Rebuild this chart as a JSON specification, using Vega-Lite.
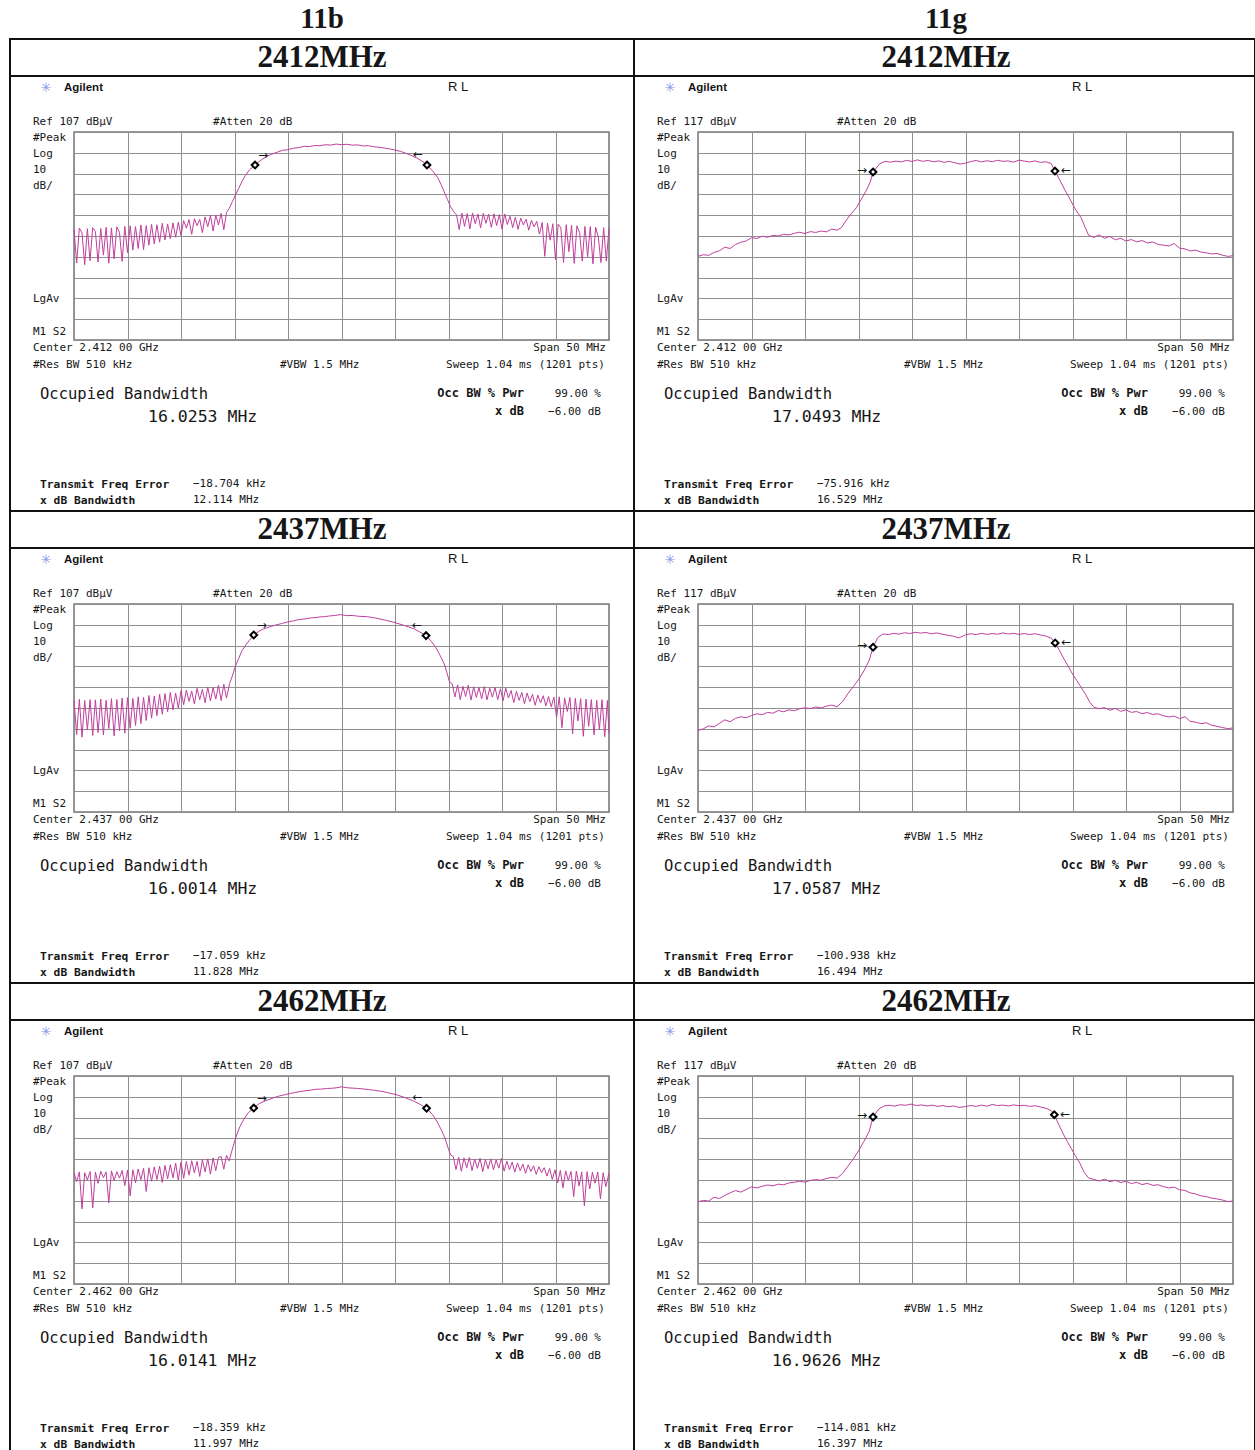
{
"$schema":"https://vega.github.io/schema/vega-lite/v6.json",
"background":"white",
"padding":{"left":8,"top":4,"right":0,"bottom":0},
"bounds":"flush",
"columns":2,
"spacing":{"row":264,"column":89},
"config":{
"view":{"stroke":"#777777","strokeWidth":1.5},
"axis":{"labels":false,"ticks":false,"domain":false,"grid":true,"gridColor":"#8f8f8f","gridWidth":1,"gridOpacity":1,"titleOpacity":0},
"text":{"font":"DejaVu Sans Mono","fontSize":11,"align":"left","baseline":"middle","color":"#161616"}
},
"datasets":{
"b2412":[{"f":-25,"v":60.2},{"f":-24.75,"v":44},{"f":-24.5,"v":60.8},{"f":-24.25,"v":58.5},{"f":-24,"v":43.2},{"f":-23.75,"v":60.5},{"f":-23.5,"v":45.1},{"f":-23.25,"v":61},{"f":-23,"v":59.2},{"f":-22.75,"v":44.5},{"f":-22.5,"v":60.6},{"f":-22.25,"v":47.8},{"f":-22,"v":61.2},{"f":-21.75,"v":43.9},{"f":-21.5,"v":60.9},{"f":-21.25,"v":46},{"f":-21,"v":61.4},{"f":-20.75,"v":58.8},{"f":-20.5,"v":44.8},{"f":-20.25,"v":61.6},{"f":-20,"v":49},{"f":-19.75,"v":61.9},{"f":-19.5,"v":50.2},{"f":-19.25,"v":61.5},{"f":-19,"v":51},{"f":-18.75,"v":62.3},{"f":-18.5,"v":50.5},{"f":-18.25,"v":62},{"f":-18,"v":52.6},{"f":-17.75,"v":62.6},{"f":-17.5,"v":53.2},{"f":-17.25,"v":62.4},{"f":-17,"v":54},{"f":-16.75,"v":63.1},{"f":-16.5,"v":55.1},{"f":-16.25,"v":62.8},{"f":-16,"v":55.7},{"f":-15.75,"v":63.3},{"f":-15.5,"v":56.4},{"f":-15.25,"v":63.6},{"f":-15,"v":57.2},{"f":-14.75,"v":64.4},{"f":-14.5,"v":60.8},{"f":-14.25,"v":64.9},{"f":-14,"v":57.8},{"f":-13.75,"v":65.3},{"f":-13.5,"v":62},{"f":-13.25,"v":65},{"f":-13,"v":58.6},{"f":-12.75,"v":66.2},{"f":-12.5,"v":61.5},{"f":-12.25,"v":66.8},{"f":-12,"v":59.4},{"f":-11.75,"v":67},{"f":-11.5,"v":62.3},{"f":-11.25,"v":67.9},{"f":-11,"v":60},{"f":-10.75,"v":68.3},{"f":-10.5,"v":70.2},{"f":-10.2,"v":73.5},{"f":-9.9,"v":76.8},{"f":-9.6,"v":80},{"f":-9.3,"v":83.2},{"f":-9,"v":86},{"f":-8.6,"v":88.8},{"f":-8.08,"v":91.1},{"f":-7.5,"v":93.6},{"f":-7,"v":95.2},{"f":-6.5,"v":96.4},{"f":-6,"v":97.3},{"f":-5.5,"v":98.2},{"f":-5,"v":98.5},{"f":-4.5,"v":99.2},{"f":-4,"v":99.5},{"f":-3.5,"v":100.1},{"f":-3,"v":100},{"f":-2.5,"v":100.5},{"f":-2,"v":100.4},{"f":-1.5,"v":100.9},{"f":-1,"v":100.7},{"f":-0.5,"v":101.2},{"f":0,"v":100.9},{"f":0.5,"v":101.1},{"f":1,"v":100.7},{"f":1.5,"v":100.8},{"f":2,"v":100.3},{"f":2.5,"v":100.4},{"f":3,"v":99.9},{"f":3.5,"v":99.7},{"f":4,"v":99.3},{"f":4.5,"v":98.9},{"f":5,"v":98.3},{"f":5.5,"v":97.7},{"f":6,"v":96.8},{"f":6.5,"v":95.8},{"f":7,"v":94.6},{"f":7.5,"v":93.1},{"f":7.99,"v":91.1},{"f":8.5,"v":88.4},{"f":9,"v":85},{"f":9.3,"v":81.8},{"f":9.6,"v":78.2},{"f":9.9,"v":74.6},{"f":10.2,"v":71},{"f":10.5,"v":68.6},{"f":10.75,"v":67.2},{"f":11,"v":60.1},{"f":11.25,"v":68},{"f":11.5,"v":61.6},{"f":11.75,"v":67.8},{"f":12,"v":60.4},{"f":12.25,"v":68.1},{"f":12.5,"v":62.9},{"f":12.75,"v":67.6},{"f":13,"v":60.9},{"f":13.25,"v":67.9},{"f":13.5,"v":63.1},{"f":13.75,"v":67.5},{"f":14,"v":61.2},{"f":14.25,"v":67.7},{"f":14.5,"v":62},{"f":14.75,"v":67.3},{"f":15,"v":60.3},{"f":15.25,"v":67.6},{"f":15.5,"v":62.5},{"f":15.75,"v":66.5},{"f":16,"v":61},{"f":16.25,"v":66},{"f":16.5,"v":60.2},{"f":16.75,"v":65.6},{"f":17,"v":62.3},{"f":17.25,"v":65.1},{"f":17.5,"v":59.8},{"f":17.75,"v":64.6},{"f":18,"v":61.4},{"f":18.25,"v":64},{"f":18.5,"v":57.9},{"f":18.75,"v":63.5},{"f":19,"v":47.2},{"f":19.25,"v":63.2},{"f":19.5,"v":55},{"f":19.75,"v":62.9},{"f":20,"v":45.6},{"f":20.25,"v":62.7},{"f":20.5,"v":61},{"f":20.75,"v":44.3},{"f":21,"v":62.4},{"f":21.25,"v":49.5},{"f":21.5,"v":62.1},{"f":21.75,"v":43.8},{"f":22,"v":61.9},{"f":22.25,"v":58.7},{"f":22.5,"v":44.9},{"f":22.75,"v":61.6},{"f":23,"v":47},{"f":23.25,"v":61.5},{"f":23.5,"v":43.6},{"f":23.75,"v":61.2},{"f":24,"v":56.4},{"f":24.25,"v":44.2},{"f":24.5,"v":61},{"f":24.75,"v":45},{"f":25,"v":60.6}],
"b2437":[{"f":-25,"v":60.8},{"f":-24.75,"v":44.2},{"f":-24.5,"v":61.2},{"f":-24.25,"v":43},{"f":-24,"v":60.6},{"f":-23.75,"v":46.5},{"f":-23.5,"v":61},{"f":-23.25,"v":43.8},{"f":-23,"v":60.9},{"f":-22.75,"v":45.2},{"f":-22.5,"v":61.3},{"f":-22.25,"v":44},{"f":-22,"v":60.7},{"f":-21.75,"v":47.1},{"f":-21.5,"v":61.5},{"f":-21.25,"v":43.6},{"f":-21,"v":61.1},{"f":-20.75,"v":46},{"f":-20.5,"v":61.8},{"f":-20.25,"v":44.9},{"f":-20,"v":62},{"f":-19.75,"v":47.3},{"f":-19.5,"v":61.6},{"f":-19.25,"v":48.6},{"f":-19,"v":62.4},{"f":-18.75,"v":49.5},{"f":-18.5,"v":62.1},{"f":-18.25,"v":51},{"f":-18,"v":63},{"f":-17.75,"v":52.1},{"f":-17.5,"v":62.7},{"f":-17.25,"v":53.3},{"f":-17,"v":63.6},{"f":-16.75,"v":54},{"f":-16.5,"v":63.9},{"f":-16.25,"v":55.2},{"f":-16,"v":64.5},{"f":-15.75,"v":56.1},{"f":-15.5,"v":64.2},{"f":-15.25,"v":57},{"f":-15,"v":65.3},{"f":-14.75,"v":58.6},{"f":-14.5,"v":65.6},{"f":-14.25,"v":60.2},{"f":-14,"v":65.1},{"f":-13.75,"v":58.9},{"f":-13.5,"v":66.4},{"f":-13.25,"v":61},{"f":-13,"v":66},{"f":-12.75,"v":59.5},{"f":-12.5,"v":67.1},{"f":-12.25,"v":60.4},{"f":-12,"v":66.8},{"f":-11.75,"v":61.3},{"f":-11.5,"v":67.9},{"f":-11.25,"v":60.6},{"f":-11,"v":68.5},{"f":-10.75,"v":61.8},{"f":-10.45,"v":68.8},{"f":-10.2,"v":72.4},{"f":-9.95,"v":76.6},{"f":-9.6,"v":80.9},{"f":-9.3,"v":84.6},{"f":-8.9,"v":87.6},{"f":-8.6,"v":89.6},{"f":-8.2,"v":92.1},{"f":-7.7,"v":93.9},{"f":-7.3,"v":95},{"f":-6.5,"v":96.4},{"f":-5.6,"v":97.6},{"f":-5,"v":98.4},{"f":-4.5,"v":98.9},{"f":-4,"v":99.5},{"f":-3.5,"v":99.8},{"f":-2.9,"v":100.3},{"f":-2.4,"v":100.5},{"f":-2,"v":100.8},{"f":-1.6,"v":100.9},{"f":-1.2,"v":101.2},{"f":-0.6,"v":101.5},{"f":-0.1,"v":101.9},{"f":0.5,"v":101.4},{"f":1,"v":101.5},{"f":1.6,"v":101.1},{"f":2.4,"v":100.9},{"f":3,"v":100.4},{"f":3.4,"v":100},{"f":4.2,"v":99.1},{"f":4.9,"v":98.2},{"f":5.8,"v":96.8},{"f":6.8,"v":95},{"f":7.3,"v":93.6},{"f":7.9,"v":91.8},{"f":8.4,"v":89},{"f":8.8,"v":86.2},{"f":9.2,"v":82.4},{"f":9.6,"v":78.2},{"f":9.85,"v":74},{"f":10.1,"v":69.4},{"f":10.35,"v":68.6},{"f":10.6,"v":62.3},{"f":10.85,"v":68.1},{"f":11.1,"v":61},{"f":11.35,"v":67.4},{"f":11.6,"v":62.5},{"f":11.85,"v":67.9},{"f":12.1,"v":60.8},{"f":12.35,"v":67.2},{"f":12.6,"v":62.1},{"f":12.85,"v":66.8},{"f":13.1,"v":61.4},{"f":13.35,"v":67.3},{"f":13.6,"v":60.9},{"f":13.85,"v":66.5},{"f":14.1,"v":62.2},{"f":14.35,"v":66.9},{"f":14.6,"v":61.1},{"f":14.85,"v":66.2},{"f":15.1,"v":60.5},{"f":15.35,"v":66.6},{"f":15.6,"v":61.8},{"f":15.85,"v":65.4},{"f":16.1,"v":59.6},{"f":16.35,"v":65},{"f":16.6,"v":60.7},{"f":16.85,"v":64.5},{"f":17.1,"v":59},{"f":17.35,"v":64.2},{"f":17.6,"v":60.1},{"f":17.85,"v":63.6},{"f":18.1,"v":58.3},{"f":18.35,"v":63.2},{"f":18.6,"v":59.4},{"f":18.85,"v":62.9},{"f":19.1,"v":58},{"f":19.35,"v":62.5},{"f":19.6,"v":57.6},{"f":19.85,"v":62.2},{"f":20.1,"v":52.4},{"f":20.35,"v":62.4},{"f":20.6,"v":47.5},{"f":20.85,"v":61.9},{"f":21.1,"v":55.3},{"f":21.35,"v":62.1},{"f":21.6,"v":44.6},{"f":21.85,"v":61.7},{"f":22.1,"v":50.8},{"f":22.35,"v":61.5},{"f":22.6,"v":43.4},{"f":22.85,"v":61.3},{"f":23.1,"v":48.2},{"f":23.35,"v":61},{"f":23.6,"v":44.1},{"f":23.85,"v":60.8},{"f":24.1,"v":46.7},{"f":24.35,"v":61},{"f":24.6,"v":43.2},{"f":24.85,"v":60.6},{"f":25,"v":45}],
"b2462":[{"f":-25,"v":60.4},{"f":-24.75,"v":56.2},{"f":-24.5,"v":60.9},{"f":-24.25,"v":43.1},{"f":-24,"v":60.5},{"f":-23.75,"v":57},{"f":-23.5,"v":61.1},{"f":-23.25,"v":43.6},{"f":-23,"v":60.8},{"f":-22.75,"v":55.4},{"f":-22.5,"v":61.2},{"f":-22.25,"v":58.1},{"f":-22,"v":60.9},{"f":-21.75,"v":46},{"f":-21.5,"v":61.4},{"f":-21.25,"v":56.8},{"f":-21,"v":61},{"f":-20.75,"v":57.9},{"f":-20.5,"v":61.6},{"f":-20.25,"v":54.3},{"f":-20,"v":61.8},{"f":-19.75,"v":49.4},{"f":-19.5,"v":61.9},{"f":-19.25,"v":55.6},{"f":-19,"v":62.3},{"f":-18.75,"v":57.1},{"f":-18.5,"v":62.6},{"f":-18.25,"v":51.5},{"f":-18,"v":62.9},{"f":-17.75,"v":56.4},{"f":-17.5,"v":63.3},{"f":-17.25,"v":57.2},{"f":-17,"v":63.6},{"f":-16.75,"v":55.8},{"f":-16.5,"v":64},{"f":-16.25,"v":57.5},{"f":-16,"v":64.4},{"f":-15.75,"v":58},{"f":-15.5,"v":65.1},{"f":-15.25,"v":56.9},{"f":-15,"v":65.6},{"f":-14.75,"v":57.8},{"f":-14.5,"v":65.9},{"f":-14.25,"v":59.3},{"f":-14,"v":66.3},{"f":-13.75,"v":60.4},{"f":-13.5,"v":66},{"f":-13.25,"v":58.7},{"f":-13,"v":66.8},{"f":-12.75,"v":60.9},{"f":-12.5,"v":67.2},{"f":-12.25,"v":59.8},{"f":-12,"v":67.6},{"f":-11.75,"v":61.5},{"f":-11.5,"v":67.8},{"f":-11.25,"v":68.3},{"f":-11,"v":62.2},{"f":-10.75,"v":68.9},{"f":-10.5,"v":66.2},{"f":-10.3,"v":70},{"f":-10.05,"v":74.5},{"f":-9.8,"v":78.6},{"f":-9.5,"v":82.6},{"f":-9.1,"v":86.4},{"f":-8.7,"v":89.4},{"f":-8.2,"v":91.6},{"f":-7.7,"v":93.7},{"f":-7.1,"v":95.1},{"f":-6.3,"v":96.6},{"f":-5.8,"v":97.4},{"f":-5.3,"v":98},{"f":-4.8,"v":98.6},{"f":-4.4,"v":99},{"f":-3.9,"v":99.5},{"f":-3.4,"v":99.9},{"f":-2.9,"v":100.2},{"f":-2.4,"v":100.6},{"f":-1.9,"v":100.7},{"f":-1.4,"v":101},{"f":-0.9,"v":101.1},{"f":-0.5,"v":101.3},{"f":0,"v":101.8},{"f":0.6,"v":101.3},{"f":1,"v":101.2},{"f":1.5,"v":101},{"f":2,"v":100.8},{"f":2.5,"v":100.5},{"f":3,"v":100.2},{"f":3.5,"v":99.8},{"f":4,"v":99.4},{"f":4.4,"v":98.9},{"f":5.2,"v":97.9},{"f":6,"v":96.5},{"f":6.8,"v":94.8},{"f":7.4,"v":93.2},{"f":7.95,"v":91.5},{"f":8.5,"v":88.5},{"f":8.9,"v":85.3},{"f":9.3,"v":81.4},{"f":9.7,"v":76.8},{"f":10,"v":71.8},{"f":10.2,"v":69},{"f":10.45,"v":68.3},{"f":10.7,"v":62},{"f":10.95,"v":68},{"f":11.2,"v":61.2},{"f":11.45,"v":67.6},{"f":11.7,"v":62.8},{"f":11.95,"v":67.9},{"f":12.2,"v":61.5},{"f":12.45,"v":67.1},{"f":12.7,"v":62.6},{"f":12.95,"v":67.5},{"f":13.2,"v":61},{"f":13.45,"v":66.8},{"f":13.7,"v":62.4},{"f":13.95,"v":67.2},{"f":14.2,"v":61.9},{"f":14.45,"v":66.6},{"f":14.7,"v":62.7},{"f":14.95,"v":67.4},{"f":15.2,"v":61.3},{"f":15.45,"v":66.1},{"f":15.7,"v":62},{"f":15.95,"v":65.6},{"f":16.2,"v":60.8},{"f":16.45,"v":65.2},{"f":16.7,"v":61.5},{"f":16.95,"v":64.7},{"f":17.2,"v":60.2},{"f":17.45,"v":64.3},{"f":17.7,"v":61.1},{"f":17.95,"v":63.8},{"f":18.2,"v":59.7},{"f":18.45,"v":63.4},{"f":18.7,"v":60.5},{"f":18.95,"v":62.9},{"f":19.2,"v":58.9},{"f":19.45,"v":62.5},{"f":19.7,"v":57.3},{"f":19.95,"v":61.9},{"f":20.2,"v":55.6},{"f":20.45,"v":61.6},{"f":20.7,"v":53.2},{"f":20.95,"v":61.4},{"f":21.2,"v":56.8},{"f":21.45,"v":61.1},{"f":21.7,"v":49},{"f":21.95,"v":61.3},{"f":22.2,"v":54.1},{"f":22.45,"v":60.9},{"f":22.7,"v":44.6},{"f":22.95,"v":61},{"f":23.2,"v":52.7},{"f":23.45,"v":60.7},{"f":23.7,"v":55.5},{"f":23.95,"v":60.8},{"f":24.2,"v":47.9},{"f":24.45,"v":60.5},{"f":24.7,"v":53.8},{"f":25,"v":60.2}],
"g2412":[{"f":-25,"v":57.2},{"f":-24.5,"v":58},{"f":-24,"v":57.7},{"f":-23.5,"v":59.1},{"f":-23,"v":59.9},{"f":-22.5,"v":61.6},{"f":-22,"v":61},{"f":-21.5,"v":62.9},{"f":-21,"v":64},{"f":-20.5,"v":64.6},{"f":-20,"v":66.2},{"f":-19.5,"v":65.8},{"f":-19,"v":66.9},{"f":-18.5,"v":66.4},{"f":-18,"v":67.3},{"f":-17.5,"v":67},{"f":-17,"v":67.8},{"f":-16.5,"v":67.5},{"f":-16,"v":68.3},{"f":-15.5,"v":68.8},{"f":-15,"v":68.2},{"f":-14.5,"v":69.1},{"f":-14,"v":68.7},{"f":-13.5,"v":69.4},{"f":-13,"v":69},{"f":-12.5,"v":70.3},{"f":-12,"v":69.8},{"f":-11.6,"v":71},{"f":-11.2,"v":74.2},{"f":-10.7,"v":77.6},{"f":-10.2,"v":80.6},{"f":-9.7,"v":85},{"f":-9.3,"v":88.6},{"f":-8.9,"v":93},{"f":-8.64,"v":97.8},{"f":-8,"v":101.8},{"f":-7.5,"v":102.9},{"f":-7,"v":102.5},{"f":-6.5,"v":103},{"f":-6,"v":102.6},{"f":-5.5,"v":103.4},{"f":-5,"v":102.8},{"f":-4.5,"v":103.6},{"f":-4,"v":102.9},{"f":-3.5,"v":103.3},{"f":-3,"v":102.7},{"f":-2.5,"v":103.1},{"f":-2,"v":102.4},{"f":-1.5,"v":102.9},{"f":-1,"v":102.2},{"f":-0.5,"v":101.6},{"f":0,"v":102},{"f":0.5,"v":102.8},{"f":1,"v":103.3},{"f":1.5,"v":102.6},{"f":2,"v":103.2},{"f":2.5,"v":102.7},{"f":3,"v":103.4},{"f":3.5,"v":102.9},{"f":4,"v":103.1},{"f":4.5,"v":102.5},{"f":5,"v":103.5},{"f":5.5,"v":103},{"f":6,"v":102.6},{"f":6.5,"v":103.1},{"f":7,"v":102.4},{"f":7.5,"v":102.7},{"f":8,"v":101.9},{"f":8.36,"v":98.2},{"f":8.8,"v":94},{"f":9.3,"v":89},{"f":9.7,"v":85.4},{"f":10.2,"v":80.4},{"f":10.8,"v":75.8},{"f":11.2,"v":71},{"f":11.5,"v":67.4},{"f":12,"v":66.3},{"f":12.5,"v":67.5},{"f":13,"v":65.9},{"f":13.5,"v":66.8},{"f":14,"v":65.2},{"f":14.5,"v":65.9},{"f":15,"v":64.6},{"f":15.5,"v":65.3},{"f":16,"v":64.2},{"f":16.5,"v":64.8},{"f":17,"v":63.7},{"f":17.5,"v":64.1},{"f":18,"v":63},{"f":18.5,"v":62.6},{"f":19,"v":62.2},{"f":19.5,"v":63.4},{"f":20,"v":61.2},{"f":20.5,"v":60.8},{"f":21,"v":59.8},{"f":21.5,"v":60.2},{"f":22,"v":59.3},{"f":22.5,"v":58.9},{"f":23,"v":58.4},{"f":23.5,"v":58.6},{"f":24,"v":57.8},{"f":24.5,"v":57.2},{"f":25,"v":57.5}],
"g2437":[{"f":-25,"v":56.2},{"f":-24.5,"v":57},{"f":-24,"v":58.4},{"f":-23.5,"v":57.9},{"f":-23,"v":59.6},{"f":-22.5,"v":61.3},{"f":-22,"v":60.4},{"f":-21.5,"v":62},{"f":-21,"v":62.8},{"f":-20.5,"v":62.3},{"f":-20,"v":63.4},{"f":-19.5,"v":64.2},{"f":-19,"v":63.8},{"f":-18.5,"v":64.9},{"f":-18,"v":64.5},{"f":-17.5,"v":65.8},{"f":-17,"v":65.2},{"f":-16.5,"v":66.1},{"f":-16,"v":65.7},{"f":-15.5,"v":66.6},{"f":-15,"v":67.1},{"f":-14.5,"v":66.7},{"f":-14,"v":67.5},{"f":-13.5,"v":67},{"f":-13,"v":67.9},{"f":-12.5,"v":68.4},{"f":-12,"v":67.6},{"f":-11.5,"v":70},{"f":-11,"v":73.8},{"f":-10.5,"v":77.2},{"f":-10,"v":80.6},{"f":-9.5,"v":84.8},{"f":-9,"v":89.9},{"f":-8.64,"v":96.2},{"f":-8.2,"v":100.9},{"f":-7.7,"v":102.6},{"f":-7.2,"v":102.3},{"f":-6.7,"v":102.9},{"f":-6.2,"v":102.5},{"f":-5.7,"v":103.2},{"f":-5.2,"v":102.8},{"f":-4.7,"v":103.4},{"f":-4.2,"v":103},{"f":-3.7,"v":103.3},{"f":-3.2,"v":102.7},{"f":-2.7,"v":103.1},{"f":-2.2,"v":102.5},{"f":-1.7,"v":102},{"f":-1.2,"v":101.6},{"f":-0.6,"v":100.7},{"f":0,"v":102.2},{"f":0.5,"v":102.7},{"f":1,"v":102.3},{"f":1.5,"v":102.9},{"f":2,"v":102.4},{"f":2.5,"v":102.8},{"f":3,"v":102.5},{"f":3.5,"v":103.1},{"f":4,"v":102.6},{"f":4.5,"v":102.9},{"f":5,"v":102.4},{"f":5.5,"v":102.8},{"f":6,"v":102.3},{"f":6.5,"v":102.7},{"f":7,"v":102.1},{"f":7.5,"v":101.6},{"f":8,"v":100.6},{"f":8.38,"v":98.3},{"f":8.8,"v":94.5},{"f":9.2,"v":90.6},{"f":9.6,"v":87.1},{"f":10,"v":83.3},{"f":10.4,"v":80.2},{"f":10.8,"v":77},{"f":11.2,"v":73.8},{"f":11.6,"v":69.9},{"f":12,"v":67.4},{"f":12.5,"v":66.6},{"f":13,"v":67.2},{"f":13.5,"v":65.9},{"f":14,"v":66.8},{"f":14.5,"v":65.4},{"f":15,"v":66.1},{"f":15.5,"v":64.9},{"f":16,"v":65.3},{"f":16.5,"v":64.3},{"f":17,"v":64.8},{"f":17.5,"v":63.9},{"f":18,"v":64.2},{"f":18.5,"v":63.3},{"f":19,"v":62.7},{"f":19.5,"v":63.1},{"f":20,"v":61.9},{"f":20.5,"v":62.8},{"f":21,"v":60.6},{"f":21.5,"v":60.2},{"f":22,"v":59.5},{"f":22.5,"v":59.9},{"f":23,"v":58.7},{"f":23.5,"v":58.2},{"f":24,"v":57.6},{"f":24.5,"v":57.1},{"f":25,"v":57.4}],
"g2462":[{"f":-25,"v":56.5},{"f":-24.5,"v":57.2},{"f":-24,"v":56.9},{"f":-23.5,"v":58.7},{"f":-23,"v":58.1},{"f":-22.5,"v":59.6},{"f":-22,"v":60.8},{"f":-21.5,"v":61.9},{"f":-21,"v":61.2},{"f":-20.5,"v":62.4},{"f":-20,"v":63.7},{"f":-19.5,"v":63.2},{"f":-19,"v":64},{"f":-18.5,"v":64.6},{"f":-18,"v":64.2},{"f":-17.5,"v":65},{"f":-17,"v":64.7},{"f":-16.5,"v":65.6},{"f":-16,"v":65.9},{"f":-15.5,"v":66.4},{"f":-15,"v":66},{"f":-14.5,"v":66.8},{"f":-14,"v":67.2},{"f":-13.5,"v":66.9},{"f":-13,"v":67.7},{"f":-12.5,"v":68.3},{"f":-12,"v":67.9},{"f":-11.5,"v":70.1},{"f":-11,"v":73.6},{"f":-10.5,"v":77},{"f":-10,"v":81},{"f":-9.5,"v":85.5},{"f":-9,"v":90.4},{"f":-8.64,"v":97.3},{"f":-8.1,"v":101.2},{"f":-7.6,"v":102.6},{"f":-7.1,"v":102.9},{"f":-6.6,"v":102.5},{"f":-6.1,"v":103.2},{"f":-5.6,"v":102.9},{"f":-5.1,"v":103.5},{"f":-4.6,"v":102.8},{"f":-4.1,"v":103.1},{"f":-3.6,"v":102.6},{"f":-3.1,"v":103},{"f":-2.6,"v":102.4},{"f":-2.1,"v":102.8},{"f":-1.6,"v":102.2},{"f":-1.1,"v":102.6},{"f":-0.6,"v":101.9},{"f":0,"v":102.3},{"f":0.5,"v":102.8},{"f":1,"v":102.4},{"f":1.5,"v":103},{"f":2,"v":102.5},{"f":2.5,"v":103.3},{"f":3,"v":102.8},{"f":3.5,"v":103},{"f":4,"v":102.6},{"f":4.5,"v":103.1},{"f":5,"v":102.7},{"f":5.5,"v":102.9},{"f":6,"v":102.4},{"f":6.5,"v":102.7},{"f":7,"v":102.1},{"f":7.5,"v":101.5},{"f":8,"v":100.4},{"f":8.3,"v":98.4},{"f":8.7,"v":93.8},{"f":9.1,"v":89.5},{"f":9.5,"v":85.6},{"f":9.9,"v":82},{"f":10.3,"v":78.4},{"f":10.7,"v":75},{"f":11.1,"v":70.6},{"f":11.5,"v":68},{"f":12,"v":67.3},{"f":12.5,"v":66.5},{"f":13,"v":67.4},{"f":13.5,"v":66.2},{"f":14,"v":66.9},{"f":14.5,"v":65.8},{"f":15,"v":66.4},{"f":15.5,"v":65.3},{"f":16,"v":65.9},{"f":16.5,"v":64.8},{"f":17,"v":65.4},{"f":17.5,"v":64.4},{"f":18,"v":64.7},{"f":18.5,"v":63.8},{"f":19,"v":63.2},{"f":19.5,"v":63.6},{"f":20,"v":62.3},{"f":20.5,"v":62},{"f":21,"v":60.8},{"f":21.5,"v":60.3},{"f":22,"v":59.4},{"f":22.5,"v":59},{"f":23,"v":58.3},{"f":23.5,"v":57.9},{"f":24,"v":57.4},{"f":24.5,"v":56.6},{"f":25,"v":56.9}]
},
"concat":[
{"width":535,"height":208,
"data":{"values":[{"std":"11b","mhz":"2412MHz","ref":"Ref 107 dBµV","center":"Center 2.412 00 GHz","obw":"16.0253 MHz","ferr":"−18.704 kHz","xbw":"12.114 MHz","lf":-8.08,"lv":91.1,"rf":7.99,"rv":91.1}]},
"layer":[
{"data":{"name":"b2412"},"mark":{"type":"line","color":"#bf3f9c","strokeWidth":1},"encoding":{"x":{"field":"f","type":"quantitative","title":null,"scale":{"domain":[-25,25],"nice":false,"zero":false},"axis":{"values":[-25,-20,-15,-10,-5,0,5,10,15,20,25],"tickCount":11}},"y":{"field":"v","type":"quantitative","title":null,"scale":{"domain":[7,107],"nice":false,"zero":false},"axis":{"values":[7,17,27,37,47,57,67,77,87,97,107],"tickCount":11}}}},
{"mark":{"type":"point","shape":"diamond","size":45,"filled":true,"fill":"white","stroke":"black","strokeWidth":2,"opacity":1},"encoding":{"x":{"field":"lf","type":"quantitative","title":null},"y":{"field":"lv","type":"quantitative","title":null}}},
{"mark":{"type":"point","shape":"diamond","size":45,"filled":true,"fill":"white","stroke":"black","strokeWidth":2,"opacity":1},"encoding":{"x":{"field":"rf","type":"quantitative","title":null},"y":{"field":"rv","type":"quantitative","title":null}}},
{"mark":{"type":"text","text":"→","font":"DejaVu Sans","fontSize":12,"align":"center","dx":8,"dy":-10},"encoding":{"x":{"field":"lf","type":"quantitative","title":null},"y":{"field":"lv","type":"quantitative","title":null}}},
{"mark":{"type":"text","text":"←","font":"DejaVu Sans","fontSize":12,"align":"center","dx":-9,"dy":-11},"encoding":{"x":{"field":"rf","type":"quantitative","title":null},"y":{"field":"rv","type":"quantitative","title":null}}},
{"mark":{"type":"text","text":"✳","font":"DejaVu Sans","fontSize":13,"align":"center","color":"#7f95e6"},"encoding":{"x":{"datum":-27.617},"y":{"datum":128.15}}},
{"mark":{"type":"text","text":"Agilent","font":"Liberation Sans","fontWeight":"bold","fontSize":11.5},"encoding":{"x":{"datum":-25.935},"y":{"datum":128.15}}},
{"mark":{"type":"text","text":"R L","font":"Liberation Sans","fontSize":13},"encoding":{"x":{"datum":9.953},"y":{"datum":128.63}}},
{"mark":"text","encoding":{"text":{"field":"ref","type":"nominal"},"x":{"datum":-28.832},"y":{"datum":111.81}}},
{"mark":{"type":"text","text":"#Atten 20 dB"},"encoding":{"x":{"datum":-12.009},"y":{"datum":111.81}}},
{"mark":{"type":"text","text":["#Peak","Log","10","dB/"],"baseline":"top","lineHeight":16},"encoding":{"x":{"datum":-28.832},"y":{"datum":106.86}}},
{"mark":{"type":"text","text":"LgAv"},"encoding":{"x":{"datum":-28.832},"y":{"datum":26.71}}},
{"mark":{"type":"text","text":"M1 S2"},"encoding":{"x":{"datum":-28.832},"y":{"datum":10.85}}},
{"mark":"text","encoding":{"text":{"field":"center","type":"nominal"},"x":{"datum":-28.832},"y":{"datum":3.15}}},
{"mark":{"type":"text","text":"Span 50 MHz","align":"right"},"encoding":{"x":{"datum":24.72},"y":{"datum":3.15}}},
{"mark":{"type":"text","text":"#Res BW 510 kHz"},"encoding":{"x":{"datum":-28.832},"y":{"datum":-5.02}}},
{"mark":{"type":"text","text":"#VBW 1.5 MHz"},"encoding":{"x":{"datum":-5.748},"y":{"datum":-5.02}}},
{"mark":{"type":"text","text":"Sweep 1.04 ms (1201 pts)","align":"right"},"encoding":{"x":{"datum":24.626},"y":{"datum":-5.02}}},
{"mark":{"type":"text","text":"Occupied Bandwidth","fontSize":15.5},"encoding":{"x":{"datum":-28.178},"y":{"datum":-18.96}}},
{"mark":{"type":"text","fontSize":16.5},"encoding":{"text":{"field":"obw","type":"nominal"},"x":{"datum":-18.084},"y":{"datum":-30.02}}},
{"mark":{"type":"text","text":["Occ BW % Pwr","x dB"],"fontWeight":"bold","fontSize":12,"align":"right","baseline":"top","lineHeight":18},"encoding":{"x":{"datum":17.056},"y":{"datum":-15.98}}},
{"mark":{"type":"text","text":["99.00 %","−6.00 dB"],"align":"right","baseline":"top","lineHeight":18},"encoding":{"x":{"datum":24.252},"y":{"datum":-16.22}}},
{"mark":{"type":"text","text":["Transmit Freq Error","x dB Bandwidth"],"fontWeight":"bold","fontSize":11.3,"baseline":"top","lineHeight":16},"encoding":{"x":{"datum":-28.178},"y":{"datum":-59.85}}},
{"mark":"text","encoding":{"text":{"field":"ferr","type":"nominal"},"x":{"datum":-13.879},"y":{"datum":-62.23}}},
{"mark":"text","encoding":{"text":{"field":"xbw","type":"nominal"},"x":{"datum":-13.879},"y":{"datum":-69.92}}},
{"mark":{"type":"text","font":"Liberation Serif","fontWeight":"bold","fontSize":31,"align":"center"},"encoding":{"text":{"field":"mhz","type":"nominal"},"x":{"datum":-1.822},"y":{"datum":142.58}}},
{"mark":{"type":"text","font":"Liberation Serif","fontWeight":"bold","fontSize":29,"align":"center"},"encoding":{"text":{"field":"std","type":"nominal"},"x":{"datum":-1.822},"y":{"datum":161.33}}},
{"mark":{"type":"rect","fillOpacity":0,"stroke":"#111111","strokeWidth":2},"encoding":{"x":{"datum":-30.981},"x2":{"datum":27.336},"y":{"datum":151.71},"y2":{"datum":133.92}}},
{"mark":{"type":"rule","color":"#111111","strokeWidth":2},"encoding":{"x":{"datum":-30.981},"y":{"datum":133.92},"y2":{"datum":-75.21}}},
{"mark":{"type":"rule","color":"#111111","strokeWidth":2},"encoding":{"x":{"datum":27.336},"y":{"datum":133.92},"y2":{"datum":-75.21}}}
]},
{"width":535,"height":208,
"data":{"values":[{"std":"11g","mhz":"2412MHz","ref":"Ref 117 dBµV","center":"Center 2.412 00 GHz","obw":"17.0493 MHz","ferr":"−75.916 kHz","xbw":"16.529 MHz","lf":-8.64,"lv":97.8,"rf":8.36,"rv":98.2}]},
"layer":[
{"data":{"name":"g2412"},"mark":{"type":"line","color":"#bf3f9c","strokeWidth":1},"encoding":{"x":{"field":"f","type":"quantitative","title":null,"scale":{"domain":[-25,25],"nice":false,"zero":false},"axis":{"values":[-25,-20,-15,-10,-5,0,5,10,15,20,25],"tickCount":11}},"y":{"field":"v","type":"quantitative","title":null,"scale":{"domain":[17,117],"nice":false,"zero":false},"axis":{"values":[17,27,37,47,57,67,77,87,97,107,117],"tickCount":11}}}},
{"mark":{"type":"point","shape":"diamond","size":45,"filled":true,"fill":"white","stroke":"black","strokeWidth":2,"opacity":1},"encoding":{"x":{"field":"lf","type":"quantitative","title":null},"y":{"field":"lv","type":"quantitative","title":null}}},
{"mark":{"type":"point","shape":"diamond","size":45,"filled":true,"fill":"white","stroke":"black","strokeWidth":2,"opacity":1},"encoding":{"x":{"field":"rf","type":"quantitative","title":null},"y":{"field":"rv","type":"quantitative","title":null}}},
{"mark":{"type":"text","text":"→","font":"DejaVu Sans","fontSize":12,"align":"center","dx":-11,"dy":-2},"encoding":{"x":{"field":"lf","type":"quantitative","title":null},"y":{"field":"lv","type":"quantitative","title":null}}},
{"mark":{"type":"text","text":"←","font":"DejaVu Sans","fontSize":12,"align":"center","dx":11,"dy":-1},"encoding":{"x":{"field":"rf","type":"quantitative","title":null},"y":{"field":"rv","type":"quantitative","title":null}}},
{"mark":{"type":"text","text":"✳","font":"DejaVu Sans","fontSize":13,"align":"center","color":"#7f95e6"},"encoding":{"x":{"datum":-27.617},"y":{"datum":138.15}}},
{"mark":{"type":"text","text":"Agilent","font":"Liberation Sans","fontWeight":"bold","fontSize":11.5},"encoding":{"x":{"datum":-25.935},"y":{"datum":138.15}}},
{"mark":{"type":"text","text":"R L","font":"Liberation Sans","fontSize":13},"encoding":{"x":{"datum":9.953},"y":{"datum":138.63}}},
{"mark":"text","encoding":{"text":{"field":"ref","type":"nominal"},"x":{"datum":-28.832},"y":{"datum":121.81}}},
{"mark":{"type":"text","text":"#Atten 20 dB"},"encoding":{"x":{"datum":-12.009},"y":{"datum":121.81}}},
{"mark":{"type":"text","text":["#Peak","Log","10","dB/"],"baseline":"top","lineHeight":16},"encoding":{"x":{"datum":-28.832},"y":{"datum":116.86}}},
{"mark":{"type":"text","text":"LgAv"},"encoding":{"x":{"datum":-28.832},"y":{"datum":36.71}}},
{"mark":{"type":"text","text":"M1 S2"},"encoding":{"x":{"datum":-28.832},"y":{"datum":20.85}}},
{"mark":"text","encoding":{"text":{"field":"center","type":"nominal"},"x":{"datum":-28.832},"y":{"datum":13.15}}},
{"mark":{"type":"text","text":"Span 50 MHz","align":"right"},"encoding":{"x":{"datum":24.72},"y":{"datum":13.15}}},
{"mark":{"type":"text","text":"#Res BW 510 kHz"},"encoding":{"x":{"datum":-28.832},"y":{"datum":4.98}}},
{"mark":{"type":"text","text":"#VBW 1.5 MHz"},"encoding":{"x":{"datum":-5.748},"y":{"datum":4.98}}},
{"mark":{"type":"text","text":"Sweep 1.04 ms (1201 pts)","align":"right"},"encoding":{"x":{"datum":24.626},"y":{"datum":4.98}}},
{"mark":{"type":"text","text":"Occupied Bandwidth","fontSize":15.5},"encoding":{"x":{"datum":-28.178},"y":{"datum":-8.96}}},
{"mark":{"type":"text","fontSize":16.5},"encoding":{"text":{"field":"obw","type":"nominal"},"x":{"datum":-18.084},"y":{"datum":-20.02}}},
{"mark":{"type":"text","text":["Occ BW % Pwr","x dB"],"fontWeight":"bold","fontSize":12,"align":"right","baseline":"top","lineHeight":18},"encoding":{"x":{"datum":17.056},"y":{"datum":-5.98}}},
{"mark":{"type":"text","text":["99.00 %","−6.00 dB"],"align":"right","baseline":"top","lineHeight":18},"encoding":{"x":{"datum":24.252},"y":{"datum":-6.22}}},
{"mark":{"type":"text","text":["Transmit Freq Error","x dB Bandwidth"],"fontWeight":"bold","fontSize":11.3,"baseline":"top","lineHeight":16},"encoding":{"x":{"datum":-28.178},"y":{"datum":-49.85}}},
{"mark":"text","encoding":{"text":{"field":"ferr","type":"nominal"},"x":{"datum":-13.879},"y":{"datum":-52.23}}},
{"mark":"text","encoding":{"text":{"field":"xbw","type":"nominal"},"x":{"datum":-13.879},"y":{"datum":-59.92}}},
{"mark":{"type":"text","font":"Liberation Serif","fontWeight":"bold","fontSize":31,"align":"center"},"encoding":{"text":{"field":"mhz","type":"nominal"},"x":{"datum":-1.822},"y":{"datum":152.58}}},
{"mark":{"type":"text","font":"Liberation Serif","fontWeight":"bold","fontSize":29,"align":"center"},"encoding":{"text":{"field":"std","type":"nominal"},"x":{"datum":-1.822},"y":{"datum":171.33}}},
{"mark":{"type":"rect","fillOpacity":0,"stroke":"#111111","strokeWidth":2},"encoding":{"x":{"datum":-30.981},"x2":{"datum":27.056},"y":{"datum":161.71},"y2":{"datum":143.92}}},
{"mark":{"type":"rule","color":"#111111","strokeWidth":2},"encoding":{"x":{"datum":-30.981},"y":{"datum":143.92},"y2":{"datum":-65.21}}},
{"mark":{"type":"rule","color":"#111111","strokeWidth":2},"encoding":{"x":{"datum":27.056},"y":{"datum":143.92},"y2":{"datum":-65.21}}}
]},
{"width":535,"height":208,
"data":{"values":[{"std":"11b","mhz":"2437MHz","ref":"Ref 107 dBµV","center":"Center 2.437 00 GHz","obw":"16.0014 MHz","ferr":"−17.059 kHz","xbw":"11.828 MHz","lf":-8.2,"lv":92.1,"rf":7.9,"rv":91.8}]},
"layer":[
{"data":{"name":"b2437"},"mark":{"type":"line","color":"#bf3f9c","strokeWidth":1},"encoding":{"x":{"field":"f","type":"quantitative","title":null,"scale":{"domain":[-25,25],"nice":false,"zero":false},"axis":{"values":[-25,-20,-15,-10,-5,0,5,10,15,20,25],"tickCount":11}},"y":{"field":"v","type":"quantitative","title":null,"scale":{"domain":[7,107],"nice":false,"zero":false},"axis":{"values":[7,17,27,37,47,57,67,77,87,97,107],"tickCount":11}}}},
{"mark":{"type":"point","shape":"diamond","size":45,"filled":true,"fill":"white","stroke":"black","strokeWidth":2,"opacity":1},"encoding":{"x":{"field":"lf","type":"quantitative","title":null},"y":{"field":"lv","type":"quantitative","title":null}}},
{"mark":{"type":"point","shape":"diamond","size":45,"filled":true,"fill":"white","stroke":"black","strokeWidth":2,"opacity":1},"encoding":{"x":{"field":"rf","type":"quantitative","title":null},"y":{"field":"rv","type":"quantitative","title":null}}},
{"mark":{"type":"text","text":"→","font":"DejaVu Sans","fontSize":12,"align":"center","dx":8,"dy":-10},"encoding":{"x":{"field":"lf","type":"quantitative","title":null},"y":{"field":"lv","type":"quantitative","title":null}}},
{"mark":{"type":"text","text":"←","font":"DejaVu Sans","fontSize":12,"align":"center","dx":-9,"dy":-11},"encoding":{"x":{"field":"rf","type":"quantitative","title":null},"y":{"field":"rv","type":"quantitative","title":null}}},
{"mark":{"type":"text","text":"✳","font":"DejaVu Sans","fontSize":13,"align":"center","color":"#7f95e6"},"encoding":{"x":{"datum":-27.617},"y":{"datum":128.15}}},
{"mark":{"type":"text","text":"Agilent","font":"Liberation Sans","fontWeight":"bold","fontSize":11.5},"encoding":{"x":{"datum":-25.935},"y":{"datum":128.15}}},
{"mark":{"type":"text","text":"R L","font":"Liberation Sans","fontSize":13},"encoding":{"x":{"datum":9.953},"y":{"datum":128.63}}},
{"mark":"text","encoding":{"text":{"field":"ref","type":"nominal"},"x":{"datum":-28.832},"y":{"datum":111.81}}},
{"mark":{"type":"text","text":"#Atten 20 dB"},"encoding":{"x":{"datum":-12.009},"y":{"datum":111.81}}},
{"mark":{"type":"text","text":["#Peak","Log","10","dB/"],"baseline":"top","lineHeight":16},"encoding":{"x":{"datum":-28.832},"y":{"datum":106.86}}},
{"mark":{"type":"text","text":"LgAv"},"encoding":{"x":{"datum":-28.832},"y":{"datum":26.71}}},
{"mark":{"type":"text","text":"M1 S2"},"encoding":{"x":{"datum":-28.832},"y":{"datum":10.85}}},
{"mark":"text","encoding":{"text":{"field":"center","type":"nominal"},"x":{"datum":-28.832},"y":{"datum":3.15}}},
{"mark":{"type":"text","text":"Span 50 MHz","align":"right"},"encoding":{"x":{"datum":24.72},"y":{"datum":3.15}}},
{"mark":{"type":"text","text":"#Res BW 510 kHz"},"encoding":{"x":{"datum":-28.832},"y":{"datum":-5.02}}},
{"mark":{"type":"text","text":"#VBW 1.5 MHz"},"encoding":{"x":{"datum":-5.748},"y":{"datum":-5.02}}},
{"mark":{"type":"text","text":"Sweep 1.04 ms (1201 pts)","align":"right"},"encoding":{"x":{"datum":24.626},"y":{"datum":-5.02}}},
{"mark":{"type":"text","text":"Occupied Bandwidth","fontSize":15.5},"encoding":{"x":{"datum":-28.178},"y":{"datum":-18.96}}},
{"mark":{"type":"text","fontSize":16.5},"encoding":{"text":{"field":"obw","type":"nominal"},"x":{"datum":-18.084},"y":{"datum":-30.02}}},
{"mark":{"type":"text","text":["Occ BW % Pwr","x dB"],"fontWeight":"bold","fontSize":12,"align":"right","baseline":"top","lineHeight":18},"encoding":{"x":{"datum":17.056},"y":{"datum":-15.98}}},
{"mark":{"type":"text","text":["99.00 %","−6.00 dB"],"align":"right","baseline":"top","lineHeight":18},"encoding":{"x":{"datum":24.252},"y":{"datum":-16.22}}},
{"mark":{"type":"text","text":["Transmit Freq Error","x dB Bandwidth"],"fontWeight":"bold","fontSize":11.3,"baseline":"top","lineHeight":16},"encoding":{"x":{"datum":-28.178},"y":{"datum":-59.85}}},
{"mark":"text","encoding":{"text":{"field":"ferr","type":"nominal"},"x":{"datum":-13.879},"y":{"datum":-62.23}}},
{"mark":"text","encoding":{"text":{"field":"xbw","type":"nominal"},"x":{"datum":-13.879},"y":{"datum":-69.92}}},
{"mark":{"type":"text","font":"Liberation Serif","fontWeight":"bold","fontSize":31,"align":"center"},"encoding":{"text":{"field":"mhz","type":"nominal"},"x":{"datum":-1.822},"y":{"datum":142.58}}},
{"mark":{"type":"rect","fillOpacity":0,"stroke":"#111111","strokeWidth":2},"encoding":{"x":{"datum":-30.981},"x2":{"datum":27.336},"y":{"datum":151.71},"y2":{"datum":133.92}}},
{"mark":{"type":"rule","color":"#111111","strokeWidth":2},"encoding":{"x":{"datum":-30.981},"y":{"datum":133.92},"y2":{"datum":-75.21}}},
{"mark":{"type":"rule","color":"#111111","strokeWidth":2},"encoding":{"x":{"datum":27.336},"y":{"datum":133.92},"y2":{"datum":-75.21}}}
]},
{"width":535,"height":208,
"data":{"values":[{"std":"11g","mhz":"2437MHz","ref":"Ref 117 dBµV","center":"Center 2.437 00 GHz","obw":"17.0587 MHz","ferr":"−100.938 kHz","xbw":"16.494 MHz","lf":-8.64,"lv":96.2,"rf":8.38,"rv":98.3}]},
"layer":[
{"data":{"name":"g2437"},"mark":{"type":"line","color":"#bf3f9c","strokeWidth":1},"encoding":{"x":{"field":"f","type":"quantitative","title":null,"scale":{"domain":[-25,25],"nice":false,"zero":false},"axis":{"values":[-25,-20,-15,-10,-5,0,5,10,15,20,25],"tickCount":11}},"y":{"field":"v","type":"quantitative","title":null,"scale":{"domain":[17,117],"nice":false,"zero":false},"axis":{"values":[17,27,37,47,57,67,77,87,97,107,117],"tickCount":11}}}},
{"mark":{"type":"point","shape":"diamond","size":45,"filled":true,"fill":"white","stroke":"black","strokeWidth":2,"opacity":1},"encoding":{"x":{"field":"lf","type":"quantitative","title":null},"y":{"field":"lv","type":"quantitative","title":null}}},
{"mark":{"type":"point","shape":"diamond","size":45,"filled":true,"fill":"white","stroke":"black","strokeWidth":2,"opacity":1},"encoding":{"x":{"field":"rf","type":"quantitative","title":null},"y":{"field":"rv","type":"quantitative","title":null}}},
{"mark":{"type":"text","text":"→","font":"DejaVu Sans","fontSize":12,"align":"center","dx":-11,"dy":-2},"encoding":{"x":{"field":"lf","type":"quantitative","title":null},"y":{"field":"lv","type":"quantitative","title":null}}},
{"mark":{"type":"text","text":"←","font":"DejaVu Sans","fontSize":12,"align":"center","dx":11,"dy":-1},"encoding":{"x":{"field":"rf","type":"quantitative","title":null},"y":{"field":"rv","type":"quantitative","title":null}}},
{"mark":{"type":"text","text":"✳","font":"DejaVu Sans","fontSize":13,"align":"center","color":"#7f95e6"},"encoding":{"x":{"datum":-27.617},"y":{"datum":138.15}}},
{"mark":{"type":"text","text":"Agilent","font":"Liberation Sans","fontWeight":"bold","fontSize":11.5},"encoding":{"x":{"datum":-25.935},"y":{"datum":138.15}}},
{"mark":{"type":"text","text":"R L","font":"Liberation Sans","fontSize":13},"encoding":{"x":{"datum":9.953},"y":{"datum":138.63}}},
{"mark":"text","encoding":{"text":{"field":"ref","type":"nominal"},"x":{"datum":-28.832},"y":{"datum":121.81}}},
{"mark":{"type":"text","text":"#Atten 20 dB"},"encoding":{"x":{"datum":-12.009},"y":{"datum":121.81}}},
{"mark":{"type":"text","text":["#Peak","Log","10","dB/"],"baseline":"top","lineHeight":16},"encoding":{"x":{"datum":-28.832},"y":{"datum":116.86}}},
{"mark":{"type":"text","text":"LgAv"},"encoding":{"x":{"datum":-28.832},"y":{"datum":36.71}}},
{"mark":{"type":"text","text":"M1 S2"},"encoding":{"x":{"datum":-28.832},"y":{"datum":20.85}}},
{"mark":"text","encoding":{"text":{"field":"center","type":"nominal"},"x":{"datum":-28.832},"y":{"datum":13.15}}},
{"mark":{"type":"text","text":"Span 50 MHz","align":"right"},"encoding":{"x":{"datum":24.72},"y":{"datum":13.15}}},
{"mark":{"type":"text","text":"#Res BW 510 kHz"},"encoding":{"x":{"datum":-28.832},"y":{"datum":4.98}}},
{"mark":{"type":"text","text":"#VBW 1.5 MHz"},"encoding":{"x":{"datum":-5.748},"y":{"datum":4.98}}},
{"mark":{"type":"text","text":"Sweep 1.04 ms (1201 pts)","align":"right"},"encoding":{"x":{"datum":24.626},"y":{"datum":4.98}}},
{"mark":{"type":"text","text":"Occupied Bandwidth","fontSize":15.5},"encoding":{"x":{"datum":-28.178},"y":{"datum":-8.96}}},
{"mark":{"type":"text","fontSize":16.5},"encoding":{"text":{"field":"obw","type":"nominal"},"x":{"datum":-18.084},"y":{"datum":-20.02}}},
{"mark":{"type":"text","text":["Occ BW % Pwr","x dB"],"fontWeight":"bold","fontSize":12,"align":"right","baseline":"top","lineHeight":18},"encoding":{"x":{"datum":17.056},"y":{"datum":-5.98}}},
{"mark":{"type":"text","text":["99.00 %","−6.00 dB"],"align":"right","baseline":"top","lineHeight":18},"encoding":{"x":{"datum":24.252},"y":{"datum":-6.22}}},
{"mark":{"type":"text","text":["Transmit Freq Error","x dB Bandwidth"],"fontWeight":"bold","fontSize":11.3,"baseline":"top","lineHeight":16},"encoding":{"x":{"datum":-28.178},"y":{"datum":-49.85}}},
{"mark":"text","encoding":{"text":{"field":"ferr","type":"nominal"},"x":{"datum":-13.879},"y":{"datum":-52.23}}},
{"mark":"text","encoding":{"text":{"field":"xbw","type":"nominal"},"x":{"datum":-13.879},"y":{"datum":-59.92}}},
{"mark":{"type":"text","font":"Liberation Serif","fontWeight":"bold","fontSize":31,"align":"center"},"encoding":{"text":{"field":"mhz","type":"nominal"},"x":{"datum":-1.822},"y":{"datum":152.58}}},
{"mark":{"type":"rect","fillOpacity":0,"stroke":"#111111","strokeWidth":2},"encoding":{"x":{"datum":-30.981},"x2":{"datum":27.056},"y":{"datum":161.71},"y2":{"datum":143.92}}},
{"mark":{"type":"rule","color":"#111111","strokeWidth":2},"encoding":{"x":{"datum":-30.981},"y":{"datum":143.92},"y2":{"datum":-65.21}}},
{"mark":{"type":"rule","color":"#111111","strokeWidth":2},"encoding":{"x":{"datum":27.056},"y":{"datum":143.92},"y2":{"datum":-65.21}}}
]},
{"width":535,"height":208,
"data":{"values":[{"std":"11b","mhz":"2462MHz","ref":"Ref 107 dBµV","center":"Center 2.462 00 GHz","obw":"16.0141 MHz","ferr":"−18.359 kHz","xbw":"11.997 MHz","lf":-8.2,"lv":91.6,"rf":7.95,"rv":91.5}]},
"layer":[
{"data":{"name":"b2462"},"mark":{"type":"line","color":"#bf3f9c","strokeWidth":1},"encoding":{"x":{"field":"f","type":"quantitative","title":null,"scale":{"domain":[-25,25],"nice":false,"zero":false},"axis":{"values":[-25,-20,-15,-10,-5,0,5,10,15,20,25],"tickCount":11}},"y":{"field":"v","type":"quantitative","title":null,"scale":{"domain":[7,107],"nice":false,"zero":false},"axis":{"values":[7,17,27,37,47,57,67,77,87,97,107],"tickCount":11}}}},
{"mark":{"type":"point","shape":"diamond","size":45,"filled":true,"fill":"white","stroke":"black","strokeWidth":2,"opacity":1},"encoding":{"x":{"field":"lf","type":"quantitative","title":null},"y":{"field":"lv","type":"quantitative","title":null}}},
{"mark":{"type":"point","shape":"diamond","size":45,"filled":true,"fill":"white","stroke":"black","strokeWidth":2,"opacity":1},"encoding":{"x":{"field":"rf","type":"quantitative","title":null},"y":{"field":"rv","type":"quantitative","title":null}}},
{"mark":{"type":"text","text":"→","font":"DejaVu Sans","fontSize":12,"align":"center","dx":8,"dy":-10},"encoding":{"x":{"field":"lf","type":"quantitative","title":null},"y":{"field":"lv","type":"quantitative","title":null}}},
{"mark":{"type":"text","text":"←","font":"DejaVu Sans","fontSize":12,"align":"center","dx":-9,"dy":-11},"encoding":{"x":{"field":"rf","type":"quantitative","title":null},"y":{"field":"rv","type":"quantitative","title":null}}},
{"mark":{"type":"text","text":"✳","font":"DejaVu Sans","fontSize":13,"align":"center","color":"#7f95e6"},"encoding":{"x":{"datum":-27.617},"y":{"datum":128.15}}},
{"mark":{"type":"text","text":"Agilent","font":"Liberation Sans","fontWeight":"bold","fontSize":11.5},"encoding":{"x":{"datum":-25.935},"y":{"datum":128.15}}},
{"mark":{"type":"text","text":"R L","font":"Liberation Sans","fontSize":13},"encoding":{"x":{"datum":9.953},"y":{"datum":128.63}}},
{"mark":"text","encoding":{"text":{"field":"ref","type":"nominal"},"x":{"datum":-28.832},"y":{"datum":111.81}}},
{"mark":{"type":"text","text":"#Atten 20 dB"},"encoding":{"x":{"datum":-12.009},"y":{"datum":111.81}}},
{"mark":{"type":"text","text":["#Peak","Log","10","dB/"],"baseline":"top","lineHeight":16},"encoding":{"x":{"datum":-28.832},"y":{"datum":106.86}}},
{"mark":{"type":"text","text":"LgAv"},"encoding":{"x":{"datum":-28.832},"y":{"datum":26.71}}},
{"mark":{"type":"text","text":"M1 S2"},"encoding":{"x":{"datum":-28.832},"y":{"datum":10.85}}},
{"mark":"text","encoding":{"text":{"field":"center","type":"nominal"},"x":{"datum":-28.832},"y":{"datum":3.15}}},
{"mark":{"type":"text","text":"Span 50 MHz","align":"right"},"encoding":{"x":{"datum":24.72},"y":{"datum":3.15}}},
{"mark":{"type":"text","text":"#Res BW 510 kHz"},"encoding":{"x":{"datum":-28.832},"y":{"datum":-5.02}}},
{"mark":{"type":"text","text":"#VBW 1.5 MHz"},"encoding":{"x":{"datum":-5.748},"y":{"datum":-5.02}}},
{"mark":{"type":"text","text":"Sweep 1.04 ms (1201 pts)","align":"right"},"encoding":{"x":{"datum":24.626},"y":{"datum":-5.02}}},
{"mark":{"type":"text","text":"Occupied Bandwidth","fontSize":15.5},"encoding":{"x":{"datum":-28.178},"y":{"datum":-18.96}}},
{"mark":{"type":"text","fontSize":16.5},"encoding":{"text":{"field":"obw","type":"nominal"},"x":{"datum":-18.084},"y":{"datum":-30.02}}},
{"mark":{"type":"text","text":["Occ BW % Pwr","x dB"],"fontWeight":"bold","fontSize":12,"align":"right","baseline":"top","lineHeight":18},"encoding":{"x":{"datum":17.056},"y":{"datum":-15.98}}},
{"mark":{"type":"text","text":["99.00 %","−6.00 dB"],"align":"right","baseline":"top","lineHeight":18},"encoding":{"x":{"datum":24.252},"y":{"datum":-16.22}}},
{"mark":{"type":"text","text":["Transmit Freq Error","x dB Bandwidth"],"fontWeight":"bold","fontSize":11.3,"baseline":"top","lineHeight":16},"encoding":{"x":{"datum":-28.178},"y":{"datum":-59.85}}},
{"mark":"text","encoding":{"text":{"field":"ferr","type":"nominal"},"x":{"datum":-13.879},"y":{"datum":-62.23}}},
{"mark":"text","encoding":{"text":{"field":"xbw","type":"nominal"},"x":{"datum":-13.879},"y":{"datum":-69.92}}},
{"mark":{"type":"text","font":"Liberation Serif","fontWeight":"bold","fontSize":31,"align":"center"},"encoding":{"text":{"field":"mhz","type":"nominal"},"x":{"datum":-1.822},"y":{"datum":142.58}}},
{"mark":{"type":"rect","fillOpacity":0,"stroke":"#111111","strokeWidth":2},"encoding":{"x":{"datum":-30.981},"x2":{"datum":27.336},"y":{"datum":151.71},"y2":{"datum":133.92}}},
{"mark":{"type":"rule","color":"#111111","strokeWidth":2},"encoding":{"x":{"datum":-30.981},"y":{"datum":133.92},"y2":{"datum":-72.81}}},
{"mark":{"type":"rule","color":"#111111","strokeWidth":2},"encoding":{"x":{"datum":27.336},"y":{"datum":133.92},"y2":{"datum":-72.81}}}
]},
{"width":535,"height":208,
"data":{"values":[{"std":"11g","mhz":"2462MHz","ref":"Ref 117 dBµV","center":"Center 2.462 00 GHz","obw":"16.9626 MHz","ferr":"−114.081 kHz","xbw":"16.397 MHz","lf":-8.64,"lv":97.3,"rf":8.3,"rv":98.4}]},
"layer":[
{"data":{"name":"g2462"},"mark":{"type":"line","color":"#bf3f9c","strokeWidth":1},"encoding":{"x":{"field":"f","type":"quantitative","title":null,"scale":{"domain":[-25,25],"nice":false,"zero":false},"axis":{"values":[-25,-20,-15,-10,-5,0,5,10,15,20,25],"tickCount":11}},"y":{"field":"v","type":"quantitative","title":null,"scale":{"domain":[17,117],"nice":false,"zero":false},"axis":{"values":[17,27,37,47,57,67,77,87,97,107,117],"tickCount":11}}}},
{"mark":{"type":"point","shape":"diamond","size":45,"filled":true,"fill":"white","stroke":"black","strokeWidth":2,"opacity":1},"encoding":{"x":{"field":"lf","type":"quantitative","title":null},"y":{"field":"lv","type":"quantitative","title":null}}},
{"mark":{"type":"point","shape":"diamond","size":45,"filled":true,"fill":"white","stroke":"black","strokeWidth":2,"opacity":1},"encoding":{"x":{"field":"rf","type":"quantitative","title":null},"y":{"field":"rv","type":"quantitative","title":null}}},
{"mark":{"type":"text","text":"→","font":"DejaVu Sans","fontSize":12,"align":"center","dx":-11,"dy":-2},"encoding":{"x":{"field":"lf","type":"quantitative","title":null},"y":{"field":"lv","type":"quantitative","title":null}}},
{"mark":{"type":"text","text":"←","font":"DejaVu Sans","fontSize":12,"align":"center","dx":11,"dy":-1},"encoding":{"x":{"field":"rf","type":"quantitative","title":null},"y":{"field":"rv","type":"quantitative","title":null}}},
{"mark":{"type":"text","text":"✳","font":"DejaVu Sans","fontSize":13,"align":"center","color":"#7f95e6"},"encoding":{"x":{"datum":-27.617},"y":{"datum":138.15}}},
{"mark":{"type":"text","text":"Agilent","font":"Liberation Sans","fontWeight":"bold","fontSize":11.5},"encoding":{"x":{"datum":-25.935},"y":{"datum":138.15}}},
{"mark":{"type":"text","text":"R L","font":"Liberation Sans","fontSize":13},"encoding":{"x":{"datum":9.953},"y":{"datum":138.63}}},
{"mark":"text","encoding":{"text":{"field":"ref","type":"nominal"},"x":{"datum":-28.832},"y":{"datum":121.81}}},
{"mark":{"type":"text","text":"#Atten 20 dB"},"encoding":{"x":{"datum":-12.009},"y":{"datum":121.81}}},
{"mark":{"type":"text","text":["#Peak","Log","10","dB/"],"baseline":"top","lineHeight":16},"encoding":{"x":{"datum":-28.832},"y":{"datum":116.86}}},
{"mark":{"type":"text","text":"LgAv"},"encoding":{"x":{"datum":-28.832},"y":{"datum":36.71}}},
{"mark":{"type":"text","text":"M1 S2"},"encoding":{"x":{"datum":-28.832},"y":{"datum":20.85}}},
{"mark":"text","encoding":{"text":{"field":"center","type":"nominal"},"x":{"datum":-28.832},"y":{"datum":13.15}}},
{"mark":{"type":"text","text":"Span 50 MHz","align":"right"},"encoding":{"x":{"datum":24.72},"y":{"datum":13.15}}},
{"mark":{"type":"text","text":"#Res BW 510 kHz"},"encoding":{"x":{"datum":-28.832},"y":{"datum":4.98}}},
{"mark":{"type":"text","text":"#VBW 1.5 MHz"},"encoding":{"x":{"datum":-5.748},"y":{"datum":4.98}}},
{"mark":{"type":"text","text":"Sweep 1.04 ms (1201 pts)","align":"right"},"encoding":{"x":{"datum":24.626},"y":{"datum":4.98}}},
{"mark":{"type":"text","text":"Occupied Bandwidth","fontSize":15.5},"encoding":{"x":{"datum":-28.178},"y":{"datum":-8.96}}},
{"mark":{"type":"text","fontSize":16.5},"encoding":{"text":{"field":"obw","type":"nominal"},"x":{"datum":-18.084},"y":{"datum":-20.02}}},
{"mark":{"type":"text","text":["Occ BW % Pwr","x dB"],"fontWeight":"bold","fontSize":12,"align":"right","baseline":"top","lineHeight":18},"encoding":{"x":{"datum":17.056},"y":{"datum":-5.98}}},
{"mark":{"type":"text","text":["99.00 %","−6.00 dB"],"align":"right","baseline":"top","lineHeight":18},"encoding":{"x":{"datum":24.252},"y":{"datum":-6.22}}},
{"mark":{"type":"text","text":["Transmit Freq Error","x dB Bandwidth"],"fontWeight":"bold","fontSize":11.3,"baseline":"top","lineHeight":16},"encoding":{"x":{"datum":-28.178},"y":{"datum":-49.85}}},
{"mark":"text","encoding":{"text":{"field":"ferr","type":"nominal"},"x":{"datum":-13.879},"y":{"datum":-52.23}}},
{"mark":"text","encoding":{"text":{"field":"xbw","type":"nominal"},"x":{"datum":-13.879},"y":{"datum":-59.92}}},
{"mark":{"type":"text","font":"Liberation Serif","fontWeight":"bold","fontSize":31,"align":"center"},"encoding":{"text":{"field":"mhz","type":"nominal"},"x":{"datum":-1.822},"y":{"datum":152.58}}},
{"mark":{"type":"rect","fillOpacity":0,"stroke":"#111111","strokeWidth":2},"encoding":{"x":{"datum":-30.981},"x2":{"datum":27.056},"y":{"datum":161.71},"y2":{"datum":143.92}}},
{"mark":{"type":"rule","color":"#111111","strokeWidth":2},"encoding":{"x":{"datum":-30.981},"y":{"datum":143.92},"y2":{"datum":-62.81}}},
{"mark":{"type":"rule","color":"#111111","strokeWidth":2},"encoding":{"x":{"datum":27.056},"y":{"datum":143.92},"y2":{"datum":-62.81}}}
]}
]
}
